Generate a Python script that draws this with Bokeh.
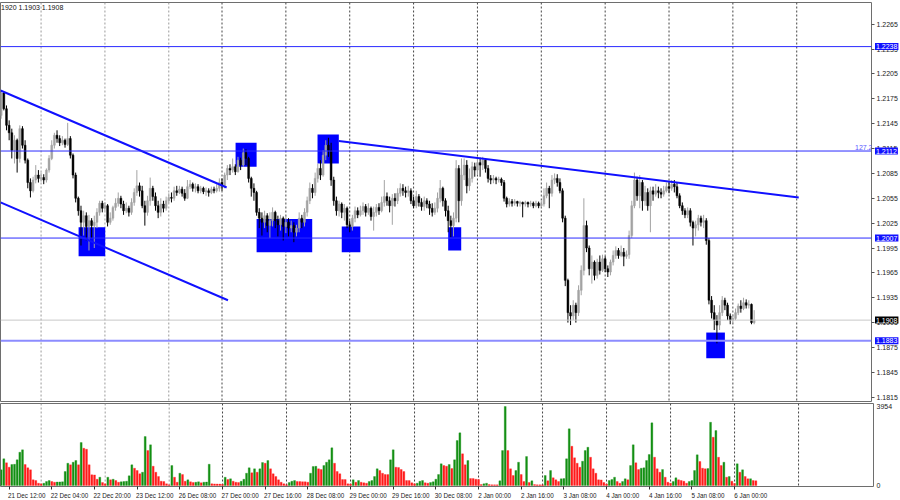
from bokeh.plotting import figure
from bokeh.models import (Range1d, FixedTicker, Span, Label, ColumnDataSource,
                          PrintfTickFormatter, GridBox)
from bokeh.embed import file_html
from bokeh.resources import INLINE

# ---------------- data (EURUSD H1) ----------------
first_open = 1.2155
close = [
 1.2182, 1.2163, 1.2143, 1.2134, 1.2113, 1.2125, 1.2103, 1.2139, 1.2119, 1.2101,
 1.2074, 1.2064, 1.2077, 1.2083, 1.2079, 1.2080, 1.2077, 1.2089, 1.2103, 1.2119,
 1.2131, 1.2127, 1.2122, 1.2125, 1.2120, 1.2127, 1.2107, 1.2083, 1.2055, 1.2040,
 1.2026, 1.2034, 1.2021, 1.2028, 1.2022, 1.2026, 1.2038, 1.2049, 1.2043, 1.2046,
 1.2026, 1.2031, 1.2044, 1.2049, 1.2055, 1.2048, 1.2040, 1.2043, 1.2038, 1.2050,
 1.2062, 1.2070, 1.2064, 1.2046, 1.2038, 1.2052, 1.2067, 1.2057, 1.2046, 1.2038,
 1.2048, 1.2043, 1.2052, 1.2056, 1.2055, 1.2064, 1.2062, 1.2066, 1.2061, 1.2055,
 1.2069, 1.2072, 1.2067, 1.2069, 1.2064, 1.2067, 1.2063, 1.2064, 1.2062, 1.2066,
 1.2064, 1.2067, 1.2074, 1.2070, 1.2083, 1.2091, 1.2089, 1.2093, 1.2087, 1.2101,
 1.2095, 1.2110, 1.2103, 1.2079, 1.2067, 1.2062, 1.2038, 1.2031, 1.2026, 1.2034,
 1.2022, 1.2028, 1.2038, 1.2028, 1.2023, 1.2031, 1.2021, 1.2026, 1.2019, 1.2022,
 1.2014, 1.2019, 1.2031, 1.2026, 1.2038, 1.2052, 1.2067, 1.2062, 1.2079, 1.2091,
 1.2083, 1.2107, 1.2119, 1.2113, 1.2077, 1.2052, 1.2040, 1.2048, 1.2038, 1.2043,
 1.2023, 1.2021, 1.2031, 1.2040, 1.2035, 1.2040, 1.2045, 1.2038, 1.2043, 1.2033,
 1.2038, 1.2044, 1.2040, 1.2050, 1.2057, 1.2052, 1.2046, 1.2055, 1.2052, 1.2061,
 1.2067, 1.2064, 1.2062, 1.2064, 1.2052, 1.2046, 1.2057, 1.2050, 1.2045, 1.2052,
 1.2048, 1.2043, 1.2038, 1.2043, 1.2055, 1.2067, 1.2052, 1.2040, 1.2028, 1.2022,
 1.2031, 1.2091, 1.2052, 1.2083, 1.2095, 1.2070, 1.2079, 1.2093, 1.2089, 1.2098,
 1.2095, 1.2101, 1.2091, 1.2079, 1.2077, 1.2079, 1.2077, 1.2078, 1.2074, 1.2055,
 1.2048, 1.2051, 1.2049, 1.2051, 1.2049, 1.2050, 1.2048, 1.2050, 1.2048, 1.2049,
 1.2046, 1.2049, 1.2046, 1.2048, 1.2058, 1.2067, 1.2061, 1.2077, 1.2079, 1.2074,
 1.2064, 1.2031, 1.1956, 1.1917, 1.1913, 1.1926, 1.1917, 1.1944, 1.1968, 1.2022,
 1.1995, 1.1970, 1.1978, 1.1962, 1.1978, 1.1968, 1.1982, 1.1970, 1.1966, 1.1978,
 1.1986, 1.1992, 1.1986, 1.1990, 1.1985, 1.1987, 1.2010, 1.2046, 1.2077, 1.2058,
 1.2074, 1.2052, 1.2062, 1.2046, 1.2064, 1.2060, 1.2064, 1.2062, 1.2060, 1.2064,
 1.2069, 1.2067, 1.2072, 1.2069, 1.2058, 1.2046, 1.2040, 1.2035, 1.2040, 1.2026,
 1.2019, 1.2023, 1.2031, 1.2026, 1.2028, 1.2004, 1.1932, 1.1917, 1.1908, 1.1902,
 1.1917, 1.1932, 1.1926, 1.1913, 1.1908, 1.1910, 1.1917, 1.1925, 1.1922, 1.1929,
 1.1926, 1.1927, 1.1905, 1.1908]
high = [
 1.2185, 1.2183, 1.2167, 1.2149, 1.2139, 1.2131, 1.2127, 1.2143, 1.2142, 1.2125,
 1.2103, 1.2079, 1.2081, 1.2095, 1.2089, 1.2086, 1.2084, 1.2091, 1.2107, 1.2125,
 1.2134, 1.2137, 1.2131, 1.2130, 1.2127, 1.2146, 1.2130, 1.2109, 1.2086, 1.2057,
 1.2046, 1.2040, 1.2038, 1.2035, 1.2031, 1.2034, 1.2043, 1.2052, 1.2052, 1.2050,
 1.2048, 1.2038, 1.2046, 1.2055, 1.2062, 1.2058, 1.2052, 1.2050, 1.2046, 1.2055,
 1.2067, 1.2089, 1.2074, 1.2070, 1.2052, 1.2058, 1.2080, 1.2070, 1.2062, 1.2052,
 1.2055, 1.2052, 1.2057, 1.2061, 1.2062, 1.2069, 1.2070, 1.2070, 1.2069, 1.2066,
 1.2077, 1.2077, 1.2074, 1.2073, 1.2072, 1.2070, 1.2069, 1.2068, 1.2067, 1.2069,
 1.2069, 1.2072, 1.2079, 1.2079, 1.2086, 1.2095, 1.2096, 1.2103, 1.2096, 1.2105,
 1.2104, 1.2115, 1.2114, 1.2105, 1.2081, 1.2073, 1.2064, 1.2043, 1.2038, 1.2040,
 1.2037, 1.2038, 1.2044, 1.2040, 1.2034, 1.2035, 1.2033, 1.2034, 1.2031, 1.2028,
 1.2026, 1.2023, 1.2038, 1.2035, 1.2043, 1.2057, 1.2074, 1.2072, 1.2086, 1.2097,
 1.2101, 1.2113, 1.2125, 1.2128, 1.2122, 1.2081, 1.2057, 1.2052, 1.2050, 1.2048,
 1.2045, 1.2028, 1.2035, 1.2045, 1.2044, 1.2046, 1.2050, 1.2048, 1.2049, 1.2045,
 1.2045, 1.2048, 1.2049, 1.2057, 1.2077, 1.2062, 1.2057, 1.2060, 1.2061, 1.2067,
 1.2073, 1.2072, 1.2069, 1.2070, 1.2067, 1.2057, 1.2064, 1.2060, 1.2055, 1.2057,
 1.2055, 1.2052, 1.2049, 1.2050, 1.2062, 1.2077, 1.2069, 1.2055, 1.2046, 1.2034,
 1.2038, 1.2101, 1.2095, 1.2103, 1.2103, 1.2101, 1.2091, 1.2099, 1.2098, 1.2103,
 1.2104, 1.2105, 1.2103, 1.2095, 1.2083, 1.2083, 1.2081, 1.2081, 1.2080, 1.2077,
 1.2057, 1.2055, 1.2054, 1.2054, 1.2052, 1.2052, 1.2051, 1.2052, 1.2051, 1.2052,
 1.2051, 1.2052, 1.2051, 1.2052, 1.2067, 1.2074, 1.2070, 1.2083, 1.2085, 1.2084,
 1.2079, 1.2067, 1.2034, 1.1958, 1.1926, 1.1932, 1.1929, 1.1950, 1.1974, 1.2055,
 1.2028, 1.1998, 1.1986, 1.1980, 1.1982, 1.1986, 1.1987, 1.1985, 1.1974, 1.1981,
 1.1992, 1.1997, 1.1995, 1.1998, 1.1995, 1.1992, 1.2016, 1.2052, 1.2086, 1.2081,
 1.2083, 1.2077, 1.2070, 1.2067, 1.2069, 1.2069, 1.2072, 1.2069, 1.2067, 1.2070,
 1.2074, 1.2075, 1.2077, 1.2077, 1.2074, 1.2061, 1.2050, 1.2043, 1.2044, 1.2043,
 1.2028, 1.2028, 1.2035, 1.2034, 1.2035, 1.2031, 1.2007, 1.1937, 1.1926, 1.1914,
 1.1926, 1.1937, 1.1935, 1.1929, 1.1916, 1.1915, 1.1922, 1.1928, 1.1932, 1.1935,
 1.1933, 1.1932, 1.1928, 1.1920]
low = [
 1.2151, 1.2161, 1.2137, 1.2125, 1.2103, 1.2097, 1.2086, 1.2098, 1.2115, 1.2097,
 1.2067, 1.2056, 1.2062, 1.2073, 1.2074, 1.2075, 1.2072, 1.2074, 1.2086, 1.2101,
 1.2115, 1.2122, 1.2118, 1.2119, 1.2116, 1.2118, 1.2103, 1.2079, 1.2050, 1.2034,
 1.1998, 1.2010, 1.2004, 1.1992, 1.2007, 1.1995, 1.2019, 1.2034, 1.2038, 1.2040,
 1.2021, 1.2023, 1.2028, 1.2040, 1.2045, 1.2043, 1.2035, 1.2037, 1.2033, 1.2035,
 1.2046, 1.2058, 1.2057, 1.2043, 1.2022, 1.2034, 1.2046, 1.2052, 1.2040, 1.2031,
 1.2033, 1.2038, 1.2040, 1.2049, 1.2050, 1.2052, 1.2058, 1.2060, 1.2057, 1.2052,
 1.2054, 1.2066, 1.2063, 1.2062, 1.2061, 1.2061, 1.2060, 1.2058, 1.2057, 1.2060,
 1.2061, 1.2062, 1.2063, 1.2064, 1.2067, 1.2077, 1.2083, 1.2086, 1.2083, 1.2086,
 1.2089, 1.2093, 1.2095, 1.2074, 1.2057, 1.2052, 1.2034, 1.2019, 1.2010, 1.2019,
 1.2014, 1.2007, 1.2021, 1.2019, 1.2009, 1.2016, 1.2004, 1.2013, 1.2009, 1.2014,
 1.2002, 1.2009, 1.2014, 1.2019, 1.2021, 1.2033, 1.2048, 1.2055, 1.2058, 1.2074,
 1.2077, 1.2081, 1.2101, 1.2105, 1.2070, 1.2046, 1.2034, 1.2033, 1.2031, 1.2028,
 1.2019, 1.2014, 1.2016, 1.2026, 1.2031, 1.2033, 1.2035, 1.2033, 1.2035, 1.2028,
 1.2016, 1.2033, 1.2035, 1.2038, 1.2045, 1.2046, 1.2038, 1.2023, 1.2045, 1.2048,
 1.2057, 1.2058, 1.2056, 1.2057, 1.2048, 1.2043, 1.2043, 1.2045, 1.2040, 1.2040,
 1.2043, 1.2035, 1.2033, 1.2035, 1.2038, 1.2050, 1.2045, 1.2033, 1.2014, 1.2008,
 1.2009, 1.2026, 1.2026, 1.2046, 1.2077, 1.2061, 1.2064, 1.2074, 1.2081, 1.2083,
 1.2081, 1.2089, 1.2086, 1.2074, 1.2072, 1.2073, 1.2072, 1.2074, 1.2070, 1.2051,
 1.2044, 1.2045, 1.2045, 1.2046, 1.2045, 1.2045, 1.2032, 1.2045, 1.2044, 1.2045,
 1.2043, 1.2044, 1.2043, 1.2044, 1.2045, 1.2055, 1.2043, 1.2057, 1.2072, 1.2069,
 1.2061, 1.2026, 1.1949, 1.1905, 1.1902, 1.1908, 1.1905, 1.1913, 1.1938, 1.1962,
 1.1990, 1.1962, 1.1952, 1.1956, 1.1958, 1.1963, 1.1966, 1.1966, 1.1960, 1.1962,
 1.1974, 1.1982, 1.1982, 1.1984, 1.1973, 1.1982, 1.1982, 1.2007, 1.2043, 1.2052,
 1.2043, 1.2040, 1.2046, 1.2040, 1.2014, 1.2052, 1.2057, 1.2055, 1.2055, 1.2057,
 1.2062, 1.2061, 1.2064, 1.2062, 1.2055, 1.2043, 1.2035, 1.2031, 1.2031, 1.2021,
 1.1998, 1.2009, 1.2016, 1.2021, 1.2019, 1.1999, 1.1927, 1.1910, 1.1896, 1.1880,
 1.1896, 1.1913, 1.1920, 1.1908, 1.1903, 1.1904, 1.1908, 1.1914, 1.1917, 1.1920,
 1.1922, 1.1922, 1.1903, 1.1903]
volume = [
 785, 1335, 1135, 915, 1050, 1060, 1285, 1665, 1785, 1050,
 885, 785, 285, 250, 115, 85, 115, 200, 250, 200,
 165, 175, 180, 185, 700, 1115, 1035, 1165, 1250, 1035,
 2150, 1865, 1815, 1035, 535, 530, 315, 415, 150, 85,
 415, 285, 315, 250, 165, 185, 200, 215, 485, 1035,
 865, 750, 585, 665, 2450, 1750, 2035, 965, 665, 450,
 215, 200, 85, 35, 1000, 415, 165, 615, 550, 215,
 285, 185, 150, 165, 185, 135, 165, 175, 1065, 85,
 80, 75, 70, 65, 415, 300, 335, 215, 165, 150,
 215, 315, 615, 885, 635, 835, 665, 835, 1150, 1115,
 1250, 835, 585, 450, 285, 165, 85, 35, 150, 215,
 250, 200, 195, 190, 185, 165, 615, 950, 960, 835,
 800, 1000, 1165, 1285, 1885, 1115, 700, 585, 300, 295,
 85, 80, 285, 165, 250, 165, 135, 115, 200, 250,
 450, 835, 750, 615, 550, 545, 1285, 1785, 915, 900,
 800, 700, 250, 245, 135, 85, 115, 215, 250, 135,
 115, 150, 185, 315, 550, 1085, 1000, 965, 1050, 850,
 1285, 2250, 2635, 1585, 1035, 1250, 350, 345, 315, 300,
 50, 85, 115, 50, 35, 34, 33, 235, 1750, 3954,
 1750, 835, 500, 750, 1165, 550, 200, 1450, 150, 235,
 50, 35, 34, 33, 500, 235, 750, 385, 285, 200,
 335, 345, 1335, 2835, 1965, 1385, 1115, 915, 1215, 1750,
 1915, 1415, 835, 615, 285, 280, 150, 75, 250, 300,
 415, 200, 115, 200, 335, 285, 1000, 2035, 1135, 800,
 865, 885, 1250, 1550, 3135, 1415, 835, 665, 800, 415,
 165, 115, 200, 385, 285, 250, 215, 115, 200, 250,
 750, 1535, 1200, 865, 835, 850, 3165, 2415, 2750, 1415,
 1000, 1165, 415, 450, 215, 100, 1085, 665, 785, 450,
 335, 340, 250, 235]

price_ticks = [1.1815, 1.1845, 1.1875, 1.1905, 1.1935, 1.1965, 1.1995, 1.2025,
               1.2055, 1.2085, 1.2115, 1.2145, 1.2175, 1.2205, 1.2235, 1.2265]
volume_ticks = [0, 3954]
time_tick_bars = [3, 19, 35, 51, 67, 83, 99, 115, 131, 147, 163, 179, 195, 211, 227, 243, 259, 275]
time_labels = ["21 Dec 12:00", "22 Dec 04:00", "22 Dec 20:00", "23 Dec 12:00", "26 Dec 08:00",
               "27 Dec 00:00", "27 Dec 16:00", "28 Dec 08:00", "29 Dec 00:00", "29 Dec 16:00",
               "30 Dec 08:00", "2 Jan 00:00", "2 Jan 16:00", "3 Jan 08:00", "4 Jan 00:00",
               "4 Jan 16:00", "5 Jan 08:00", "6 Jan 00:00"]
day_start_bars = [15, 39, 63, 83, 107, 131, 155, 179, 203, 227, 251, 275, 299]

level_lines = [1.2238, 1.2112, 1.2007]
last_price = 1.1908
low_level = 1.1883
fibo_text = "127.2"
header_text = "1920 1.1903 1.1908"

# marked zones: (left bar, right bar, top price, bottom price)
zones_left = [29.1, 88.1, 96.0, 118.9, 128.0, 168.0, 265.0]
zones_right = [39.1, 96.0, 116.9, 126.9, 135.0, 172.9, 272.0]
zones_top = [1.2020, 1.2122, 1.2030, 1.2132, 1.2021, 1.2020, 1.1893]
zones_bottom = [1.1985, 1.2093, 1.1990, 1.2097, 1.1990, 1.1992, 1.1862]

# trend lines: (bar0, price0, bar1, price1)
trend_x0 = [-0.25, -0.25, 126.9]
trend_y0 = [1.2185, 1.2050, 1.2124]
trend_x1 = [84.75, 85.25, 299.75]
trend_y1 = [1.2068, 1.1932, 1.2056]

# ---------------- build ----------------
FONT = "Liberation Sans"
n = len(close)
bars = list(range(n))
opens = [first_open] + close[:-1]
up = [c > o for o, c in zip(opens, close)]
candle_color = ["#a3a3a3" if u else "#000000" for u in up]
src = ColumnDataSource(dict(
    x=bars, o=opens, c=close, h=high, l=low,
    top=[max(o, c) for o, c in zip(opens, close)],
    bot=[min(o, c) for o, c in zip(opens, close)],
    color=candle_color))

vol_color = ["#149014" if (i == 0 or volume[i] > volume[i - 1]) else "#ff1c1c" for i in range(n)]
vsrc = ColumnDataSource(dict(x=bars, v=volume, color=vol_color))

xr = Range1d(-0.25, 327.1)
yr = Range1d(1.18086, 1.22912)
p = figure(frame_width=873, frame_height=400, x_range=xr, y_range=yr,
           output_backend="svg", toolbar_location=None, x_axis_location=None,
           y_axis_location="right", min_border_top=2, min_border_left=0,
           min_border_bottom=0, min_border_right=27,
           background_fill_color="white", border_fill_color="white",
           outline_line_color="#6e6e6e")
p.grid.visible = False
ya = p.yaxis[0]
ya.ticker = FixedTicker(ticks=price_ticks)
ya.formatter = PrintfTickFormatter(format="%.4f")
ya.axis_line_color = None
ya.major_tick_out = 3
ya.major_tick_in = 0
ya.minor_tick_out = 0
ya.major_tick_line_color = "#555555"
ya.major_label_standoff = 2
ya.major_label_text_font = FONT
ya.major_label_text_font_size = "7px"
ya.major_label_text_color = "#222222"

for b in day_start_bars:
    dim = "#9a9a9a" if b < 80 else "#444444"
    p.add_layout(Span(location=b, dimension="height", line_color=dim,
                      line_dash="2 2", line_width=1, level="underlay"))

p.quad(left=zones_left, right=zones_right, top=zones_top, bottom=zones_bottom,
       fill_color="#0000ff", line_color=None)

p.segment(x0="x", y0="l", x1="x", y1="h", line_color="color", line_width=1, source=src)
p.vbar(x="x", width=0.7, top="top", bottom="bot", fill_color="color", line_color="color",
       line_width=0.5, source=src)

for lv in level_lines:
    p.add_layout(Span(location=lv, dimension="width", line_color="#2b2bff", line_width=1))
p.add_layout(Span(location=last_price, dimension="width", line_color="#c8c8c8", line_width=1))
p.add_layout(Span(location=low_level, dimension="width", line_color="#8c8cff", line_width=2))

p.segment(x0=trend_x0, y0=trend_y0, x1=trend_x1, y1=trend_y1, line_color="#1010ff", line_width=2)

p.add_layout(Label(x=872, y=level_lines[1], x_units="screen", y_units="data",
                   text=fibo_text, text_font=FONT, text_font_size="7px",
                   text_color="#5a5aff", text_align="right", text_baseline="bottom", y_offset=1))
p.add_layout(Label(x=0.5, y=1.2285, x_units="screen", text=header_text, text_font=FONT,
                   text_font_size="7px", text_color="#111111", text_align="left",
                   text_baseline="middle"))

# ---- price-level tags over the right price scale (transparent overlay strip) ----
tags = figure(frame_width=27, frame_height=400, x_range=Range1d(0, 27), y_range=yr,
              output_backend="svg", toolbar_location=None, x_axis_location=None,
              y_axis_location=None, min_border_top=2, min_border_left=0,
              min_border_bottom=0, min_border_right=0,
              background_fill_alpha=0, border_fill_alpha=0, outline_line_color=None)
tags.grid.visible = False

def tag(price, bg):
    tags.add_layout(Label(x=1.5, y=price, x_units="screen", y_units="data",
                          text=f"{price:.4f}", text_font=FONT, text_font_size="7px",
                          text_color="white", text_baseline="middle", text_align="left",
                          background_fill_color=bg, padding=1))

for lv in level_lines:
    tag(lv, "#1010ff")
tag(last_price, "#000000")
tag(low_level, "#1010ff")

# ---------------- volume panel ----------------
v = figure(frame_width=873, frame_height=83, x_range=xr, y_range=Range1d(-50, 4104),
           output_backend="svg", toolbar_location=None, y_axis_location="right",
           x_axis_location="below", min_border_top=1, min_border_left=0,
           min_border_bottom=0, min_border_right=27,
           background_fill_color="white", border_fill_color="white",
           outline_line_color="#6e6e6e")
v.grid.visible = False
for b in day_start_bars:
    dim = "#9a9a9a" if b < 80 else "#444444"
    v.add_layout(Span(location=b, dimension="height", line_color=dim,
                      line_dash="2 2", line_width=1, level="underlay"))
v.vbar(x="x", width=0.72, top="v", bottom=0, fill_color="color", line_color="color",
       line_width=0.3, source=vsrc)

vy = v.yaxis[0]
vy.ticker = FixedTicker(ticks=volume_ticks)
vy.formatter = PrintfTickFormatter(format="%d")
vy.axis_line_color = None
vy.major_tick_out = 0
vy.major_tick_in = 0
vy.major_label_standoff = 3
vy.major_label_text_font = FONT
vy.major_label_text_font_size = "7px"
vy.major_label_text_color = "#222222"

centers = [round(b + len(t) * 0.55, 2) for b, t in zip(time_tick_bars, time_labels)]
vx = v.xaxis[0]
vx.ticker = FixedTicker(ticks=centers, minor_ticks=time_tick_bars)
vx.major_label_overrides = {c: t for c, t in zip(centers, time_labels)}
vx.axis_line_color = None
vx.major_tick_out = 0
vx.major_tick_in = 0
vx.minor_tick_out = 3
vx.minor_tick_in = 0
vx.minor_tick_line_color = "#333333"
vx.major_label_standoff = 2
vx.major_label_text_font = FONT
vx.major_label_text_font_size = "6.3px"
vx.major_label_text_color = "#222222"

layout = GridBox(children=[(p, 0, 0, 1, 2), (tags, 0, 1, 1, 1), (v, 1, 0, 1, 2)],
                 cols=["873px", "27px"], rows=["402px", "auto"], spacing=0)
open("out.html", "w").write(file_html(layout, INLINE))
